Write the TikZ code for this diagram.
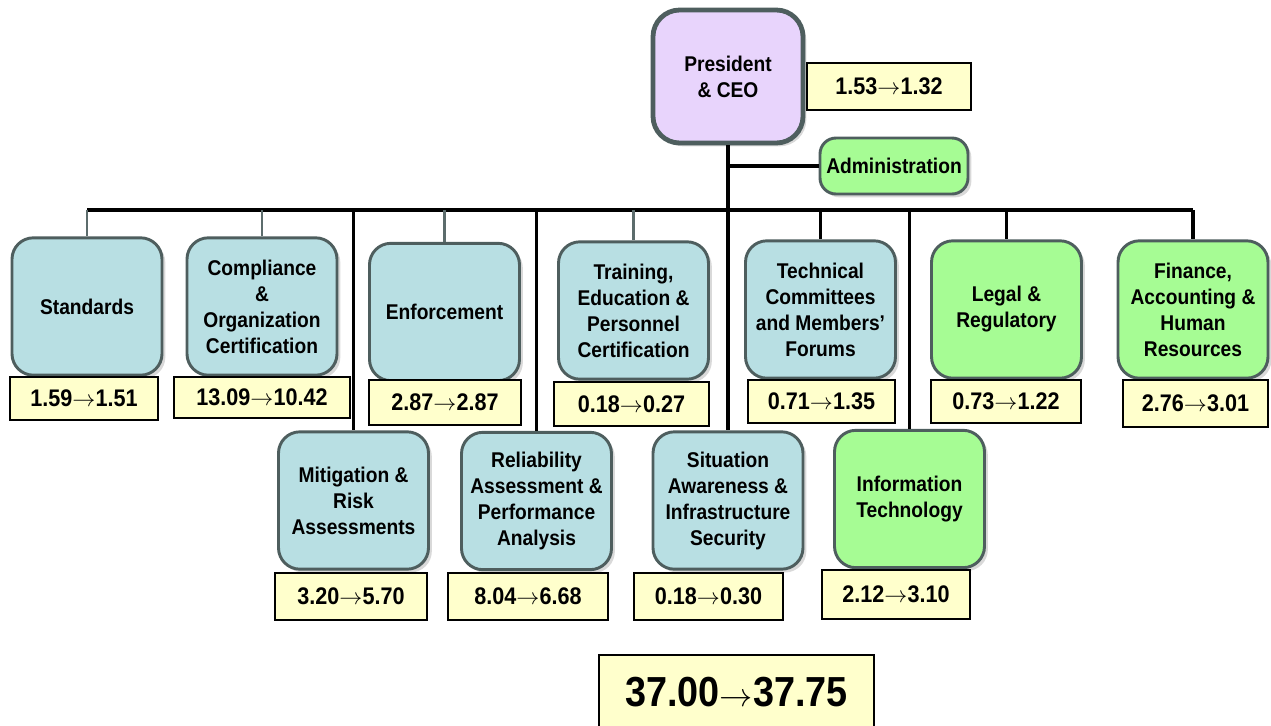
\documentclass[tikz,border=0pt]{standalone}
\usepackage{fontspec}
\setmainfont[FakeStretch=0.9]{Liberation Sans}
\usetikzlibrary{shadows}
\definecolor{edge}{HTML}{4E5E5E}
\definecolor{unit}{HTML}{B8DFE3}
\definecolor{corp}{HTML}{A6FC94}
\definecolor{exec}{HTML}{E8D4FC}
\definecolor{cost}{HTML}{FFFFCC}
\definecolor{stub}{HTML}{5C6C6C}
\newcommand{\gives}{\ensuremath{\rightarrow}}
\tikzset{
  dept/.style={draw=edge, line width=2.2pt, rounded corners=16pt, fill=unit,
    minimum width=112.5pt, minimum height=103pt, inner sep=2pt, align=center,
    font=\fontsize{16}{19.5}\selectfont\bfseries,
    drop shadow={shadow xshift=2.5pt, shadow yshift=-2.5pt, opacity=0.3}},
  green/.style={fill=corp},
  val/.style={draw=black, line width=1.3pt, fill=cost, minimum width=111pt,
    minimum height=32.5pt, inner sep=2pt, font=\fontsize{18}{21}\selectfont\bfseries},
  bus/.style={draw=black, line width=2.5pt},
  stem/.style={draw=stub, line width=1.9pt},
}
\begin{document}
\begin{tikzpicture}[x=0.75pt, y=-0.75pt]
  \useasboundingbox (0,0) rectangle (1271,725);
  \coordinate (bus) at (0,210);
  % top
  \node[dept, fill=exec, line width=3.6pt, rounded corners=20pt, minimum height=99.75pt] (ceo) at (728,76.5) {President\\\& CEO};
  \node[val, minimum width=123pt, minimum height=35pt] (ceoval) at (889,86.5) {1.53\gives1.32};
  \node[dept, green, minimum width=111pt, minimum height=42pt, rounded corners=12pt] (adm) at (894,166) {Administration};
  % first row
  \node[dept] (std) at (87,306.5) {Standards};
  \node[dept] (cmp) at (262,306.5) {Compliance\\\&\\Organization\\Certification};
  \node[dept] (enf) at (444.5,312) {Enforcement};
  \node[dept] (trn) at (633.5,310.5) {Training,\\Education \&\\Personnel\\Certification};
  \node[dept] (tec) at (820.5,309.5) {Technical\\Committees\\and Members’\\Forums};
  \node[dept, green] (leg) at (1006.5,309.5) {Legal \&\\Regulatory};
  \node[dept, green] (fin) at (1193,309.5) {Finance,\\Accounting \&\\Human\\Resources};
  % second row
  \node[dept] (mit) at (353.5,500.5) {Mitigation \&\\Risk\\Assessments};
  \node[dept] (rel) at (536.5,501) {Reliability\\Assessment \&\\Performance\\Analysis};
  \node[dept] (sit) at (728,500.5) {Situation\\Awareness \&\\Infrastructure\\Security};
  \node[dept, green] (itc) at (909.5,499) {Information\\Technology};
  % budgets
  \node[val] (stdval) at (84,398.5) {1.59\gives1.51};
  \node[val, minimum width=132pt, minimum height=31pt] (cmpval) at (262,397.5) {13.09\gives10.42};
  \node[val, minimum width=114pt, minimum height=34pt] (enfval) at (445,402.5) {2.87\gives2.87};
  \node[val, minimum width=116pt] (trnval) at (631.5,404) {0.18\gives0.27};
  \node[val, minimum width=110pt] (tecval) at (821.5,401.5) {0.71\gives1.35};
  \node[val, minimum width=112.5pt] (legval) at (1006,401.5) {0.73\gives1.22};
  \node[val, minimum width=109pt, minimum height=35pt] (finval) at (1195.5,403.5) {2.76\gives3.01};
  \node[val, minimum width=114pt, minimum height=35pt] (mitval) at (351,596.5) {3.20\gives5.70};
  \node[val, minimum width=120pt, minimum height=35pt] (relval) at (528,596.5) {8.04\gives6.68};
  \node[val, minimum width=112pt, minimum height=35pt] (sitval) at (708.5,596.5) {0.18\gives0.30};
  \node[val, minimum width=111pt, minimum height=37pt] (itcval) at (896,594.5) {2.12\gives3.10};
  \node[val, minimum width=206pt, minimum height=55pt, font=\fontsize{31.5}{36}\selectfont\bfseries] (total) at (736.5,692) {37.00\gives37.75};
  % lines
  \draw[bus] (ceo) -- (sit);
  \draw[bus] (ceo.south |- adm.west) -- (adm.west);
  \draw[bus] (std.north |- bus) -- (fin.north |- bus);
  \foreach \d in {std,cmp,enf,trn}
    \draw[stem] (\d.north |- bus) -- (\d.north);
  \foreach \d in {tec,leg,fin,mit,rel,itc}
    \draw[bus] (\d.north |- bus) -- (\d.north);
\end{tikzpicture}
\end{document}
